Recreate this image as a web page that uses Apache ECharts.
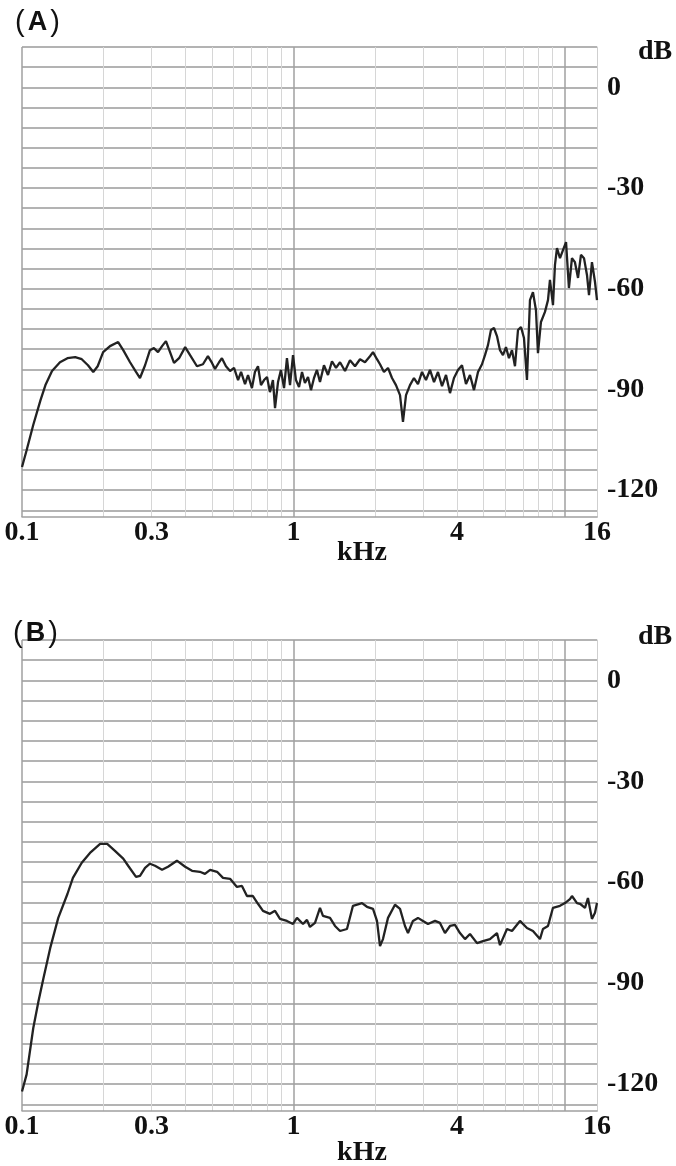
<!DOCTYPE html>
<html><head><meta charset="utf-8">
<script src="https://cdn.jsdelivr.net/npm/echarts@6/dist/echarts.min.js"></script>
<style>html,body{margin:0;padding:0;background:#fff}#c{width:676px;height:1166px}</style>
</head><body><div id="c"></div>
<script>
// Panel A: frequency (kHz) and level (dB)
const freqA = [0.100,0.104,0.110,0.117,0.122,0.129,0.138,0.147,0.157,0.166,0.175,0.183,0.190,0.199,0.211,0.226,0.236,0.250,0.263,0.272,
0.284,0.296,0.306,0.317,0.328,0.339,0.351,0.363,0.379,0.399,0.416,0.441,0.464,0.484,0.501,0.514,0.532,0.545,0.564,0.584,
0.604,0.625,0.641,0.663,0.680,0.703,0.721,0.740,0.759,0.779,0.799,0.819,0.840,0.855,0.877,0.899,0.923,0.946,0.971,0.996,
1.021,1.048,1.075,1.102,1.131,1.160,1.190,1.220,1.252,1.295,1.340,1.386,1.434,1.484,1.548,1.615,1.685,1.758,1.834,1.913,
1.963,2.030,2.083,2.154,2.229,2.306,2.385,2.468,2.531,2.597,2.686,2.778,2.874,2.974,3.076,3.183,3.293,3.406,3.524,3.646,
3.771,3.901,4.036,4.175,4.319,4.468,4.622,4.782,4.947,5.074,5.204,5.338,5.476,5.617,5.762,5.910,6.063,6.219,6.379,6.544,
6.713,6.886,7.063,7.244,7.431,7.622,7.819,7.952,8.157,8.439,8.657,8.804,9.032,9.186,9.344,9.585,9.832,10.09,10.34,10.61,
10.88,11.17,11.45,11.75,12.05,12.26,12.57,12.90,13.12];
const levelA = [-113.1,-108.1,-100.6,-93.2,-88.7,-84.5,-81.9,-80.7,-80.4,-81.0,-82.8,-84.8,-83.1,-78.9,-77.1,-75.9,-78.3,-81.9,-84.8,-86.6,
-82.8,-78.3,-77.7,-78.9,-77.1,-75.6,-78.9,-82.1,-80.7,-77.4,-79.8,-83.1,-82.5,-80.1,-82.1,-83.9,-81.9,-80.7,-83.1,-84.5,
-83.6,-87.2,-84.8,-88.4,-85.7,-89.6,-84.8,-83.1,-88.7,-87.2,-86.3,-90.8,-87.2,-95.6,-87.8,-84.2,-89.6,-80.7,-88.7,-79.8,
-87.2,-89.3,-84.8,-88.1,-86.3,-90.2,-86.6,-84.2,-87.8,-82.8,-85.7,-81.6,-83.6,-81.9,-84.5,-81.3,-83.1,-81.0,-81.9,-80.1,
-78.9,-81.0,-82.5,-84.8,-83.6,-86.6,-88.7,-91.7,-99.7,-91.7,-88.7,-86.6,-88.4,-84.8,-87.2,-84.2,-87.8,-84.8,-89.0,-85.7,
-91.1,-86.6,-84.2,-82.8,-88.4,-85.7,-90.2,-84.8,-82.5,-79.8,-76.8,-72.3,-71.7,-74.1,-78.3,-79.8,-77.4,-80.7,-78.3,-83.1,
-72.3,-71.4,-74.7,-87.2,-63.4,-61.0,-66.4,-79.2,-69.9,-66.9,-63.4,-57.4,-64.9,-52.9,-47.9,-50.9,-48.5,-46.1,-59.8,-50.9,
-52.1,-56.8,-49.9,-50.9,-55.9,-61.9,-52.1,-58.0,-63.4];
// Panel B
const freqB = [0.100,0.104,0.110,0.115,0.120,0.127,0.136,0.147,0.154,0.166,0.178,0.194,0.206,0.220,0.236,0.246,0.263,0.272,0.284,0.296,
0.309,0.328,0.345,0.372,0.399,0.423,0.452,0.472,0.493,0.523,0.550,0.584,0.619,0.646,0.674,0.709,0.740,0.772,0.819,0.855,
0.892,0.946,0.996,1.030,1.084,1.121,1.150,1.200,1.252,1.284,1.363,1.422,1.484,1.574,1.656,1.788,1.865,1.963,2.030,2.083,
2.136,2.229,2.365,2.468,2.574,2.641,2.754,2.874,2.999,3.129,3.321,3.464,3.614,3.771,3.934,4.104,4.283,4.468,4.742,4.989,
5.293,5.617,5.762,6.115,6.379,6.827,7.244,7.622,8.088,8.297,8.657,9.032,9.585,10.00,10.43,10.61,11.07,11.36,11.85,12.15,
12.57,12.90,13.12];
const levelB = [-122.2,-117.1,-103.4,-95.4,-88.5,-79.6,-70.6,-63.5,-58.7,-54.2,-51.3,-48.6,-48.6,-50.7,-53.0,-55.1,-58.4,-58.1,-55.7,-54.5,
-55.1,-56.3,-55.4,-53.6,-55.4,-56.6,-56.9,-57.5,-56.3,-56.9,-58.7,-59.0,-61.4,-61.1,-64.1,-64.1,-66.4,-68.5,-69.4,-68.5,
-70.9,-71.5,-72.4,-70.6,-72.4,-71.2,-73.3,-72.1,-67.6,-70.0,-70.6,-73.0,-74.5,-73.9,-67.0,-66.2,-67.3,-67.9,-71.5,-79.0,
-76.9,-70.6,-66.7,-67.9,-73.0,-75.1,-71.5,-70.6,-71.5,-72.4,-71.5,-72.1,-75.1,-73.0,-72.7,-75.1,-76.9,-75.4,-78.1,-77.5,
-76.9,-75.1,-78.7,-73.9,-74.5,-71.5,-73.6,-74.5,-76.9,-73.9,-73.0,-67.6,-67.0,-66.2,-65.0,-64.1,-66.2,-66.4,-67.6,-64.7,
-70.9,-69.1,-66.2];

const X_MIN = 0.1, X_MAX = 13.12;
const Y_MIN = -128, Y_MAX = 12;
const xMinorGrid = [0.2,0.3,0.4,0.5,0.6,0.7,0.8,0.9,2,3,4,5,6,7,8,9];
const xMajorGrid = [0.1,1,10];
const xTickValues = [0.1,0.3,1,4,X_MAX];
const xTickLabels = ['0.1','0.3','1','4','16'];
const yGridValues = [12,6,0,-6,-12,-18,-24,-30,-36,-42,-48,-54,-60,-66,-72,-78,-84,-90,-96,-102,-108,-114,-120,-126];
const yLabelValues = [0,-30,-60,-90,-120];
const panelLetters = ['A','B'];

const SERIF = 'Liberation Serif';
const SANS = 'Liberation Sans';

function xLabel(v){
  let best = 0, bd = Infinity;
  xTickValues.forEach((t,i)=>{const d=Math.abs(Math.log(v/t)); if(d<bd){bd=d;best=i;}});
  return xTickLabels[best];
}

const grids = [{left:22, top:47, width:575, height:470},{left:22, top:640, width:575, height:471}];
const xAxes = [], yAxes = [];
grids.forEach((g,gi)=>{
  xAxes.push({type:'log', logBase:10, gridIndex:gi, min:X_MIN, max:X_MAX, position:'bottom',
    axisLine:{show:false}, axisTick:{show:false, customValues:xMinorGrid}, axisLabel:{show:false},
    splitLine:{show:true, lineStyle:{color:'#d6d6d6', width:1}}});
  xAxes.push({type:'log', logBase:10, gridIndex:gi, min:X_MIN, max:X_MAX, position:'bottom',
    axisLine:{show:true, onZero:false, lineStyle:{color:'#a0a0a0', width:1.5}},
    axisTick:{show:false, customValues:xMajorGrid},
    axisLabel:{customValues:xTickValues, formatter:xLabel, fontFamily:SERIF, fontWeight:'bold', fontSize:28, color:'#111', margin:2},
    splitLine:{show:true, lineStyle:{color:'#a0a0a0', width:1.5}}});
  yAxes.push({type:'value', gridIndex:gi, min:Y_MIN, max:Y_MAX, position:'right',
    axisLine:{show:true, lineStyle:{color:'#cfcfcf', width:1}},
    axisTick:{show:false, customValues:yGridValues},
    axisLabel:{customValues:yLabelValues, fontFamily:SERIF, fontWeight:'bold', fontSize:28, color:'#111', margin:10,
      padding:[5,0,0,0]},
    splitLine:{show:true, lineStyle:{color:'#9a9a9a', width:1.5}}});
});

function pairs(fx, ly){ return fx.map((f,i)=>[f, ly[i]]); }

const series = [
  {type:'line', xAxisIndex:1, yAxisIndex:0, data:pairs(freqA, levelA), showSymbol:false, symbol:'none',
   lineStyle:{color:'#222', width:2.3}, z:5},
  {type:'line', xAxisIndex:3, yAxisIndex:1, data:pairs(freqB, levelB), showSymbol:false, symbol:'none',
   lineStyle:{color:'#222', width:2.3}, z:5}
];

function txt(text, x, y, family, size, align){
  return {type:'text', x:x, y:y, z:10, style:{text:text, fontFamily:family, fontWeight:'bold', fontSize:size,
    fill:'#111', align:align||'left', verticalAlign:'middle'}};
}
function panelTag(letter, x, y){
  return {type:'text', x:x, y:y, z:10, style:{
    text:'{p|(}{a|' + letter + '}{p|)}', align:'left', verticalAlign:'middle',
    rich:{
      p:{fontFamily:SANS, fontWeight:'normal', fontSize:29, fill:'#111'},
      a:{fontFamily:SANS, fontWeight:'bold', fontSize:27, fill:'#111', padding:[0,3,0,3]}
    }}};
}
const graphic = [
  panelTag(panelLetters[0], 15, 23),
  txt('dB', 638, 52, SERIF, 28),
  txt('kHz', 362, 553, SERIF, 28, 'center'),
  panelTag(panelLetters[1], 13, 634),
  txt('dB', 638, 637, SERIF, 28),
  txt('kHz', 362, 1153, SERIF, 28, 'center')
];

const chart = echarts.init(document.getElementById('c'), null, {renderer:'canvas'});
chart.setOption({animation:false, backgroundColor:'#fff', grid:grids, xAxis:xAxes, yAxis:yAxes, series:series, graphic:graphic});
</script></body></html>
